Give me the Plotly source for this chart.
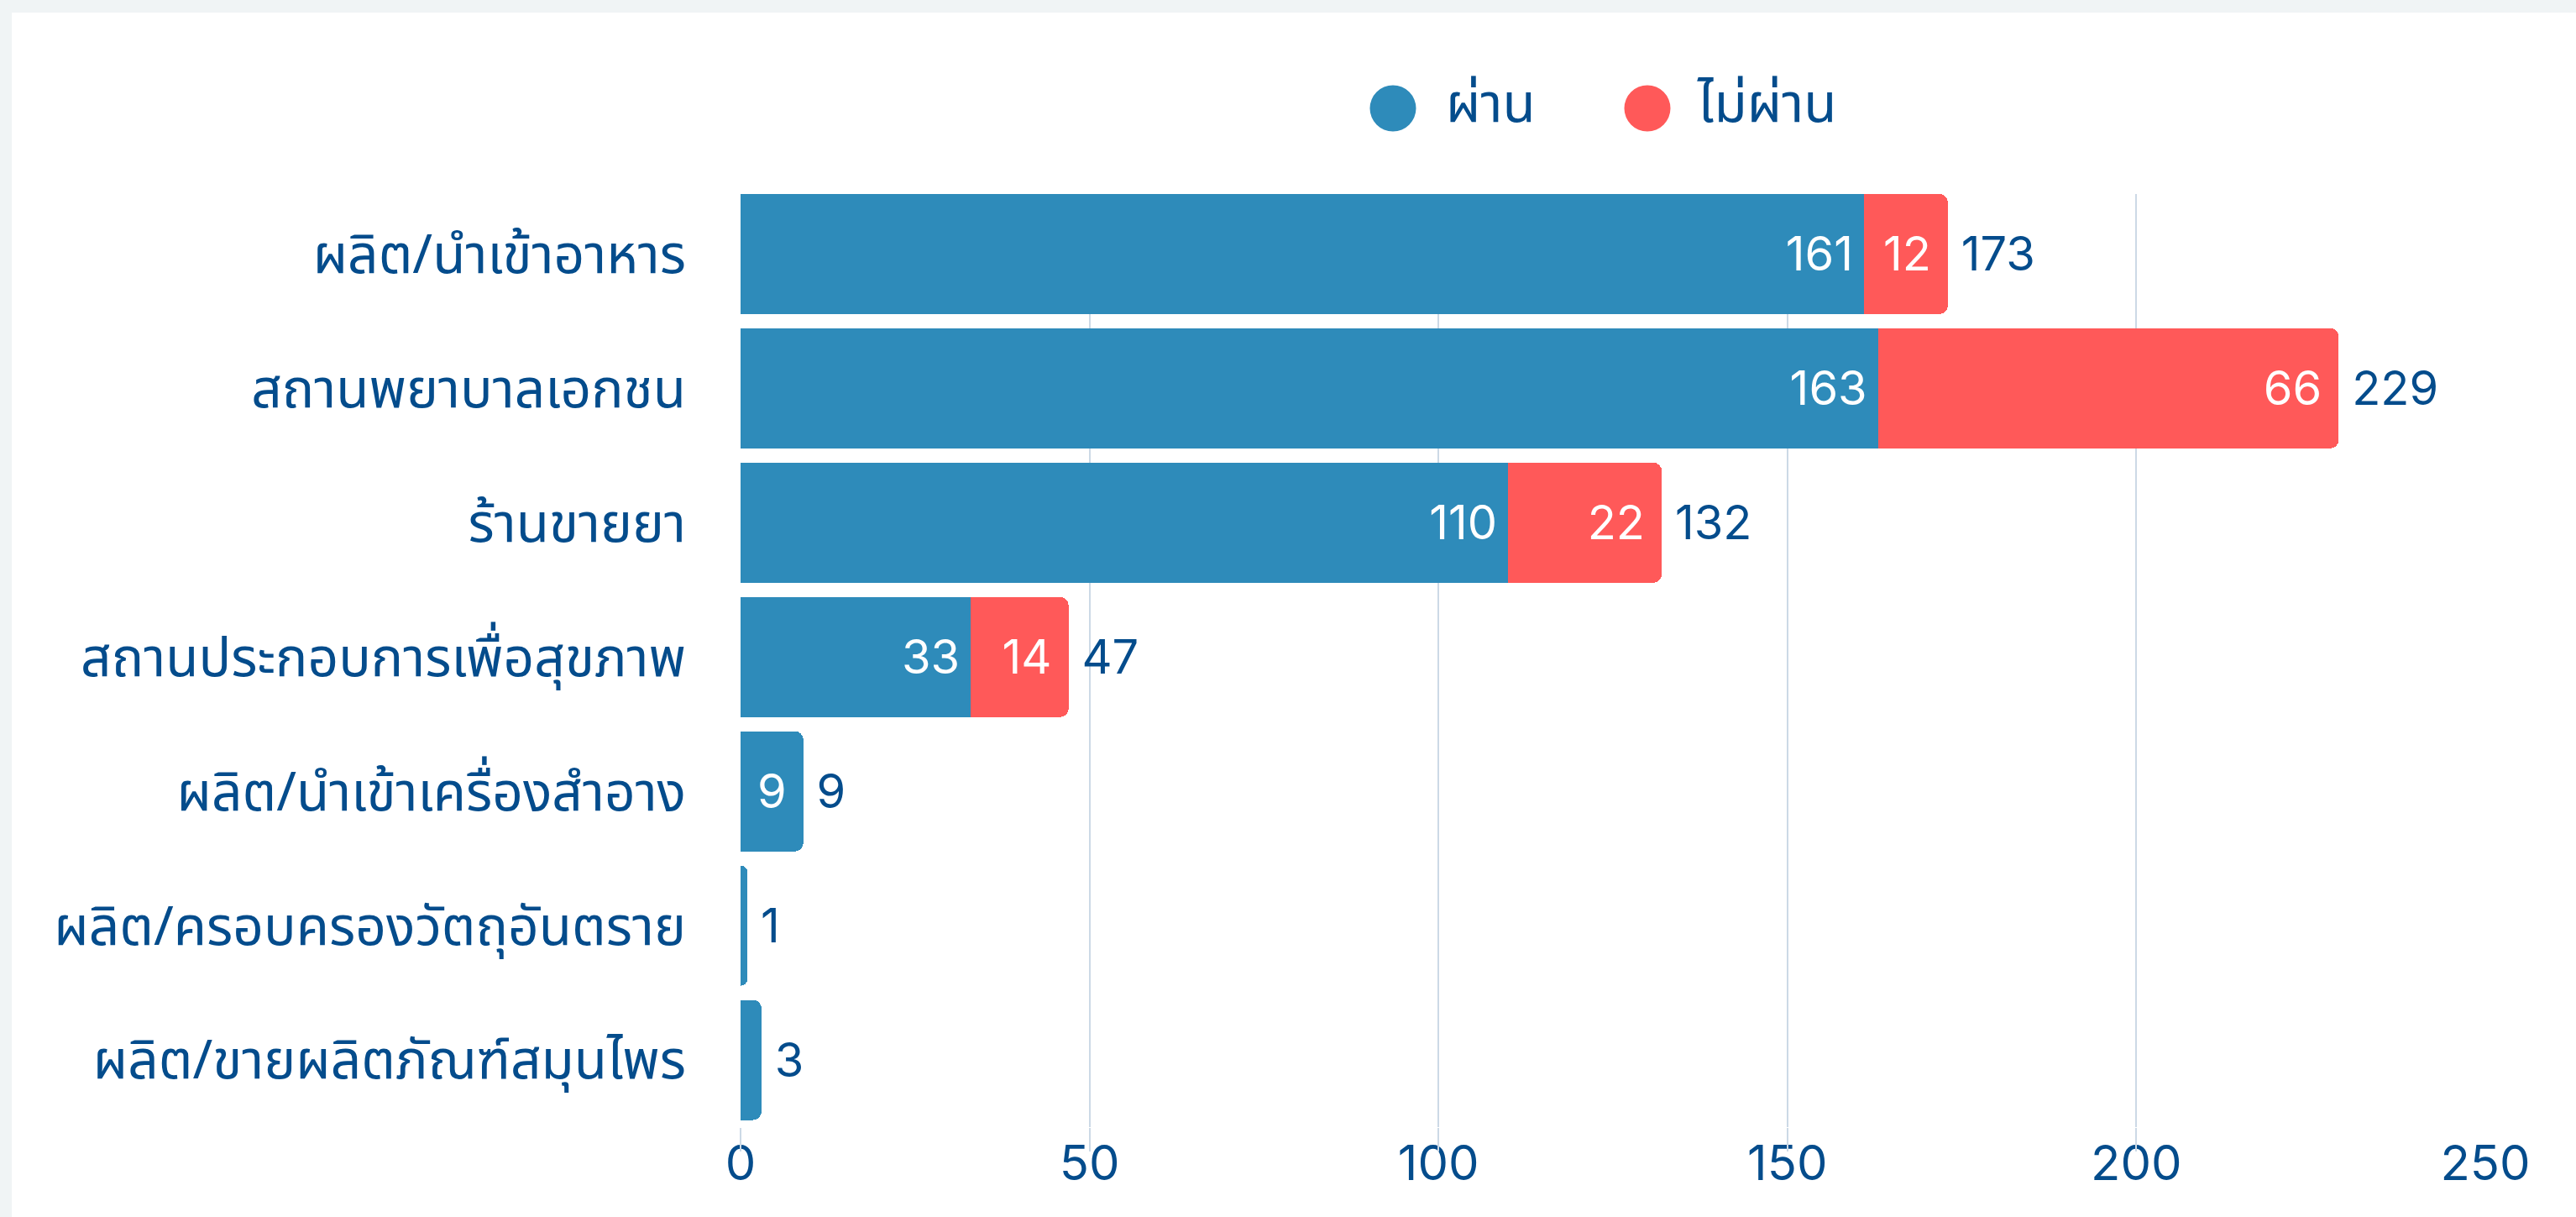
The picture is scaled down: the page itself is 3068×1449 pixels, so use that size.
import plotly.graph_objects as go

# ---------------- data ----------------
categories = [
    "ผลิต/นำเข้าอาหาร",
    "สถานพยาบาลเอกชน",
    "ร้านขายยา",
    "สถานประกอบการเพื่อสุขภาพ",
    "ผลิต/นำเข้าเครื่องสำอาง",
    "ผลิต/ครอบครองวัตถุอันตราย",
    "ผลิต/ขายผลิตภัณฑ์สมุนไพร",
]
passed = [161, 163, 110, 33, 9, 1, 3]
failed = [12, 66, 22, 14, None, None, None]
series_names = ["ผ่าน", "ไม่ผ่าน"]
x_ticks = [0, 50, 100, 150, 200, 250]
grid_ticks = [0, 50, 100, 150, 200]

totals = [p + (f or 0) for p, f in zip(passed, failed)]

# ---------------- style ----------------
W, H = 3068, 1449
ML, MR, MT, MB = 882, 108, 231, 107
PW, PH = W - ML - MR, H - MT - MB
BLUE = "#2E8BBA"
RED = "#FF5959"
DARK = "#044C8C"
GRID = "#CCD9E6"
FRAME = "#F0F4F5"
NUM_FONT = "Inter, Noto Sans Thai, Noto Sans, sans-serif"
THAI_FONT = "Noto Sans Thai, Inter, Noto Sans, sans-serif"
FS_NUM = 56
FS_TICK = 58
FS_THAI = 64
Y_RANGE = [6.5, -0.447]
LABEL_NUDGE = 0.037  # small downward nudge of the total labels (category units)


def px2x(px):
    return (px - ML) / PW


def py2y(py):
    return (H - MB - py) / PH


fig = go.Figure()

fig.add_trace(go.Bar(
    name=series_names[0], y=categories, x=passed, orientation="h",
    marker=dict(color=BLUE, line=dict(width=0)),
    texttemplate="%{x}\u2009", textposition="inside", insidetextanchor="end",
    textfont=dict(color="white", size=FS_NUM, family=NUM_FONT),
    showlegend=False, hoverinfo="x+name",
))
fig.add_trace(go.Bar(
    name=series_names[1], y=categories, x=failed, orientation="h",
    marker=dict(color=RED, line=dict(width=0)),
    texttemplate="%{x}\u2009", textposition="inside", insidetextanchor="end",
    textfont=dict(color="white", size=FS_NUM, family=NUM_FONT),
    showlegend=False, hoverinfo="x+name",
))
fig.add_trace(go.Scatter(
    y=categories, x=totals, mode="text", xaxis="x2", yaxis="y2",
    text=["\u00a0" + str(t) for t in totals], textposition="middle right",
    textfont=dict(color=DARK, size=FS_NUM, family=NUM_FONT),
    showlegend=False, hoverinfo="skip", cliponaxis=False,
))

# background frame (white card on light grey)
fig.add_shape(type="rect", xref="paper", yref="paper", layer="below",
              x0=px2x(14), x1=px2x(W + 10), y0=py2y(H + 10), y1=py2y(15),
              fillcolor="white", line=dict(width=0))

# manual legend
leg_circles = [(1659, BLUE), (1962, RED)]
leg_text_x = [1720, 2019]
for (cx, col), tx, name in zip(leg_circles, leg_text_x, series_names):
    r = 27.5
    fig.add_shape(type="circle", xref="paper", yref="paper",
                  x0=px2x(cx - r), x1=px2x(cx + r), y0=py2y(129 + r), y1=py2y(129 - r),
                  fillcolor=col, line=dict(width=0))
    fig.add_annotation(xref="paper", yref="paper", x=px2x(tx), y=py2y(125),
                       xanchor="left", yanchor="middle", text=name, showarrow=False,
                       font=dict(color=DARK, size=FS_THAI, family=THAI_FONT))

fig.update_layout(
    width=W, height=H,
    margin=dict(l=ML, r=MR, t=MT, b=MB, pad=0),
    paper_bgcolor=FRAME, plot_bgcolor="rgba(0,0,0,0)",
    barmode="stack", bargap=0.106, barcornerradius=10,
    uniformtext=dict(minsize=FS_NUM, mode="hide"),
    font=dict(family=NUM_FONT, color=DARK, size=FS_NUM),
    xaxis=dict(range=[0, 250], tickvals=x_ticks, showgrid=False, zeroline=False,
               showline=False, ticks="", tickfont=dict(size=FS_TICK, color=DARK, family=NUM_FONT),
               ticklabelstandoff=4, fixedrange=True),
    xaxis2=dict(range=[0, 250], overlaying="x", anchor="y", side="bottom",
                tickvals=grid_ticks, showgrid=True, gridcolor=GRID, gridwidth=2,
                zeroline=False, showline=False, showticklabels=False,
                ticks="outside", ticklen=28, tickcolor=GRID, tickwidth=2),
    yaxis=dict(type="category", categoryarray=categories, range=Y_RANGE,
               showgrid=False, zeroline=False, showline=False, ticks="",
               tickfont=dict(size=FS_THAI, color=DARK, family=THAI_FONT),
               ticklabelstandoff=64),
    yaxis2=dict(type="category", categoryarray=categories, overlaying="y", anchor="x2",
                range=[Y_RANGE[0] - LABEL_NUDGE, Y_RANGE[1] - LABEL_NUDGE],
                showgrid=False, zeroline=False, showline=False, ticks="",
                showticklabels=False),
)

fig.write_html(
    "out.html",
    config={"displayModeBar": False},
    post_script="document.body.style.margin='0';document.body.style.overflow='hidden';",
)
